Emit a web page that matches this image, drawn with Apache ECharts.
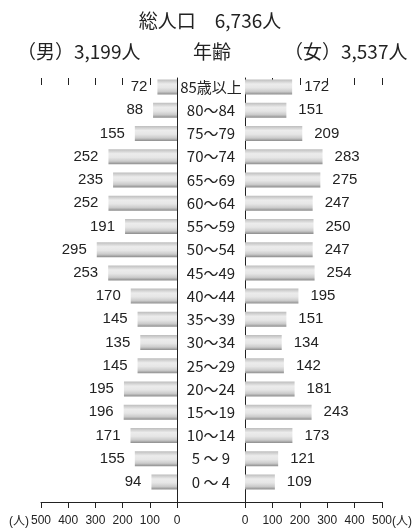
<!DOCTYPE html>
<html><head><meta charset="utf-8">
<script src="https://cdn.jsdelivr.net/npm/echarts@6/dist/echarts.min.js"></script>
<style>html,body{margin:0;padding:0;background:#fff}#c{width:414px;height:530px}</style>
</head><body><div id="c"></div>
<script>
const categories = ['85歳以上','80〜84','75〜79','70〜74','65〜69','60〜64','55〜59','50〜54','45〜49','40〜44','35〜39','30〜34','25〜29','20〜24','15〜19','10〜14','5 〜 9','0 〜 4'];
const male = [72,88,155,252,235,252,191,295,253,170,145,135,145,195,196,171,155,94];
const female = [172,151,209,283,275,247,250,247,254,195,151,134,142,181,243,173,121,109];
const xTicks = [0,100,200,300,400,500];
const titleText = '総人口　6,736人';
const maleText = '（男）3,199人';
const femaleText = '（女）3,537人';
const ageText = '年齢';
const unitText = '(人)';

const FONT = '"Liberation Sans", "Noto Sans CJK JP", sans-serif';
const CJK = '"Noto Sans CJK JP", sans-serif';

const barColor = new echarts.graphic.LinearGradient(0,0,0,1,[
  {offset:0,color:'#bdbdbd'},{offset:0.3,color:'#ececec'},{offset:0.55,color:'#e6e6e6'},{offset:0.8,color:'#cbcbcb'},{offset:1,color:'#8c8c8c'}]);

const tickLabel = {show:true,margin:13,fontSize:12,fontFamily:FONT,color:'#222',showMinLabel:true,showMaxLabel:true,
  formatter: v => xTicks.indexOf(v) >= 0 ? String(v) : ''};

const chart = echarts.init(document.getElementById('c'));
const barTop = 75.4, barBottom = 530-493.6;
const frameTop = 78, frameBottom = 28;
chart.setOption({
  animation:false,
  grid:[
    {left:41, right:414-177, top:barTop, bottom:barBottom},
    {left:245, right:32, top:barTop, bottom:barBottom},
    {left:41, right:414-177, top:frameTop, bottom:frameBottom},
    {left:245, right:32, top:frameTop, bottom:frameBottom},
    {left:177, right:414-245, top:frameTop, bottom:frameBottom}
  ],
  xAxis:[
    {gridIndex:0, type:'value', min:0, max:500, inverse:true, show:false},
    {gridIndex:1, type:'value', min:0, max:500, show:false},
    {gridIndex:2, type:'value', min:0, max:500, interval:100, inverse:true,
      axisLine:{show:true,lineStyle:{color:'#222',width:1}},
      axisTick:{show:true,length:6,lineStyle:{color:'#222'}},
      axisLabel:tickLabel, splitLine:{show:false}},
    {gridIndex:3, type:'value', min:0, max:500, interval:100,
      axisLine:{show:true,lineStyle:{color:'#222',width:1}},
      axisTick:{show:true,length:6,lineStyle:{color:'#222'}},
      axisLabel:tickLabel, splitLine:{show:false}},
    {gridIndex:2, type:'value', min:0, max:500, interval:100, inverse:true,
      axisLine:{show:false}, axisTick:{show:true,inside:true,length:7,lineStyle:{color:'#222'}},
      axisLabel:{show:false}, splitLine:{show:false}},
    {gridIndex:3, type:'value', min:0, max:500, interval:100,
      axisLine:{show:false}, axisTick:{show:true,inside:true,length:7,lineStyle:{color:'#222'}},
      axisLabel:{show:false}, splitLine:{show:false}},
    {gridIndex:4, type:'value', min:0, max:1,
      axisLine:{show:true,lineStyle:{color:'#222',width:1}}, axisTick:{show:false}, axisLabel:{show:false}, splitLine:{show:false}}
  ],
  yAxis:[
    {gridIndex:0, type:'category', data:categories, inverse:true, show:false},
    {gridIndex:1, type:'category', data:categories, inverse:true, position:'left',
      axisLine:{show:false}, axisTick:{show:false},
      axisLabel:{show:true, margin:34, align:'center', fontSize:15, fontFamily:CJK, color:'#222', interval:0}},
    {gridIndex:2, type:'value', position:'right', min:0, max:1,
      axisLine:{show:true,lineStyle:{color:'#222',width:1}}, axisTick:{show:false}, axisLabel:{show:false}, splitLine:{show:false}},
    {gridIndex:3, type:'value', position:'left', min:0, max:1,
      axisLine:{show:true,lineStyle:{color:'#222',width:1}}, axisTick:{show:false}, axisLabel:{show:false}, splitLine:{show:false}},
    {gridIndex:4, type:'value', min:0, max:1, show:false}
  ],
  series:[
    {type:'bar', xAxisIndex:0, yAxisIndex:0, data:male, barWidth:15, itemStyle:{color:barColor},
      label:{show:true, position:'left', distance:10, fontSize:15, fontFamily:FONT, color:'#222'}},
    {type:'bar', xAxisIndex:1, yAxisIndex:1, data:female, barWidth:15, itemStyle:{color:barColor},
      label:{show:true, position:'right', distance:12, fontSize:15, fontFamily:FONT, color:'#222'}}
  ],
  graphic:[
    {type:'text', x:210, y:21, style:{text:titleText, font:'19px '+CJK, fill:'#222', align:'center', verticalAlign:'middle'}},
    {type:'text', x:17, y:52, style:{text:maleText, font:'19px '+CJK, fill:'#222', align:'left', verticalAlign:'middle'}},
    {type:'text', x:212, y:52, style:{text:ageText, font:'19px '+CJK, fill:'#222', align:'center', verticalAlign:'middle'}},
    {type:'text', x:284, y:52, style:{text:femaleText, font:'19px '+CJK, fill:'#222', align:'left', verticalAlign:'middle'}},
    {type:'text', x:29, y:522, style:{text:unitText, font:'12px '+FONT, fill:'#222', align:'right', verticalAlign:'middle'}},
    {type:'text', x:392, y:522, style:{text:unitText, font:'12px '+FONT, fill:'#222', align:'left', verticalAlign:'middle'}}
  ]
});
</script></body></html>
